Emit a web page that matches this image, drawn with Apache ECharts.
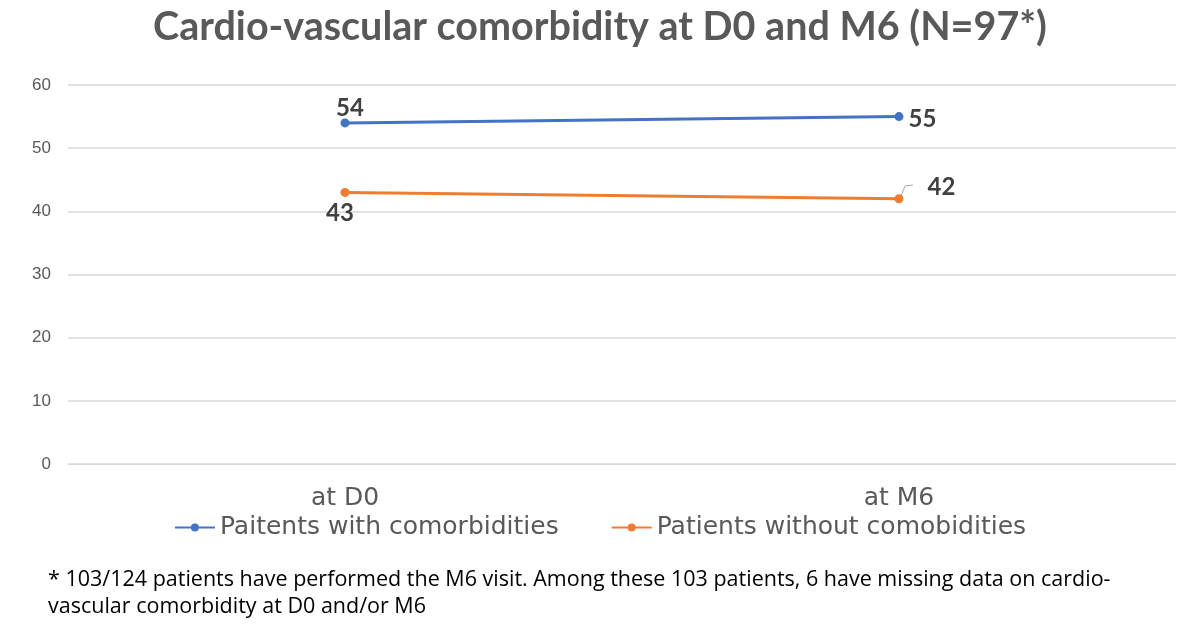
<!DOCTYPE html>
<html>
<head>
<meta charset="utf-8">
<title>Cardio-vascular comorbidity</title>
<style>
  html, body { margin: 0; padding: 0; background: #fff; }
  #chart { width: 1200px; height: 633px; }
</style>
</head>
<body>
<div id="chart"></div>
<script src="https://cdn.jsdelivr.net/npm/echarts@6/dist/echarts.min.js"></script>
<script>
// data
var categories = ['at D0', 'at M6'];
var withComorb = [54, 55];
var withoutComorb = [43, 42];
var seriesNames = ['Paitents with comorbidities', 'Patients without comobidities'];

var chart = echarts.init(document.getElementById('chart'));

var option = {
    animation: false,
    title: {
        text: 'Cardio-vascular comorbidity at D0 and M6 (N=97*)',
        left: 'center',
        top: 2,
        textStyle: {
            fontFamily: 'Lato',
            fontWeight: 'bold',
            fontSize: 39.5,
            color: '#595959'
        }
    },
    legend: {
        data: seriesNames,
        bottom: 88,
        left: 'center',
        itemWidth: 40,
        itemHeight: 10,
        itemGap: 52,
        textStyle: {
            fontFamily: 'DejaVu Sans',
            fontSize: 25,
            color: '#595959'
        }
    },
    grid: {
        left: 68,
        right: 24,
        top: 85,
        height: 379
    },
    xAxis: {
        type: 'category',
        data: categories,
        axisLine: { lineStyle: { color: '#d9d9d9' } },
        axisTick: { show: false },
        axisLabel: {
            fontFamily: 'DejaVu Sans',
            fontSize: 25,
            color: '#595959',
            margin: 22
        }
    },
    yAxis: {
        type: 'value',
        min: 0,
        max: 60,
        interval: 10,
        axisLine: { show: false },
        axisTick: { show: false },
        splitLine: { lineStyle: { color: '#d9d9d9', width: 1.5 } },
        axisLabel: {
            fontFamily: 'Liberation Sans',
            fontSize: 17,
            color: '#595959',
            margin: 17
        }
    },
    series: [
        {
            name: seriesNames[0],
            type: 'line',
            data: [
                { value: withComorb[0], label: { position: 'top', offset: [5, 7] } },
                { value: withComorb[1], label: { position: 'right', offset: [0, 3] } }
            ],
            symbol: 'circle',
            symbolSize: 9,
            itemStyle: { color: '#4472C4' },
            lineStyle: { color: '#4472C4', width: 3 },
            label: {
                show: true,
                fontFamily: 'Lato',
                fontWeight: 'bold',
                fontSize: 24,
                color: '#404040'
            }
        },
        {
            name: seriesNames[1],
            type: 'line',
            data: [
                { value: withoutComorb[0], label: { position: 'bottom', offset: [-5, -1] } },
                { value: withoutComorb[1], label: { position: 'right', offset: [19, -11] } }
            ],
            symbol: 'circle',
            symbolSize: 9,
            itemStyle: { color: '#ED7D31' },
            lineStyle: { color: '#ED7D31', width: 3 },
            label: {
                show: true,
                fontFamily: 'Lato',
                fontWeight: 'bold',
                fontSize: 24,
                color: '#404040'
            }
        }
    ],
    graphic: [
        {
            type: 'polyline',
            shape: { points: [[901, 196], [905, 186], [913, 185]] },
            style: { stroke: '#a6a6a6', lineWidth: 1, fill: null }
        },
        {
            type: 'text',
            left: 48,
            top: 566,
            style: {
                text: '* 103/124 patients have performed the M6 visit. Among these 103 patients, 6 have missing data on cardio-\nvascular comorbidity at D0 and/or M6',
                fontFamily: 'Open Sans',
                fontSize: 21.5,
                lineHeight: 27,
                fill: '#000'
            }
        }
    ]
};

chart.setOption(option);
</script>
</body>
</html>
